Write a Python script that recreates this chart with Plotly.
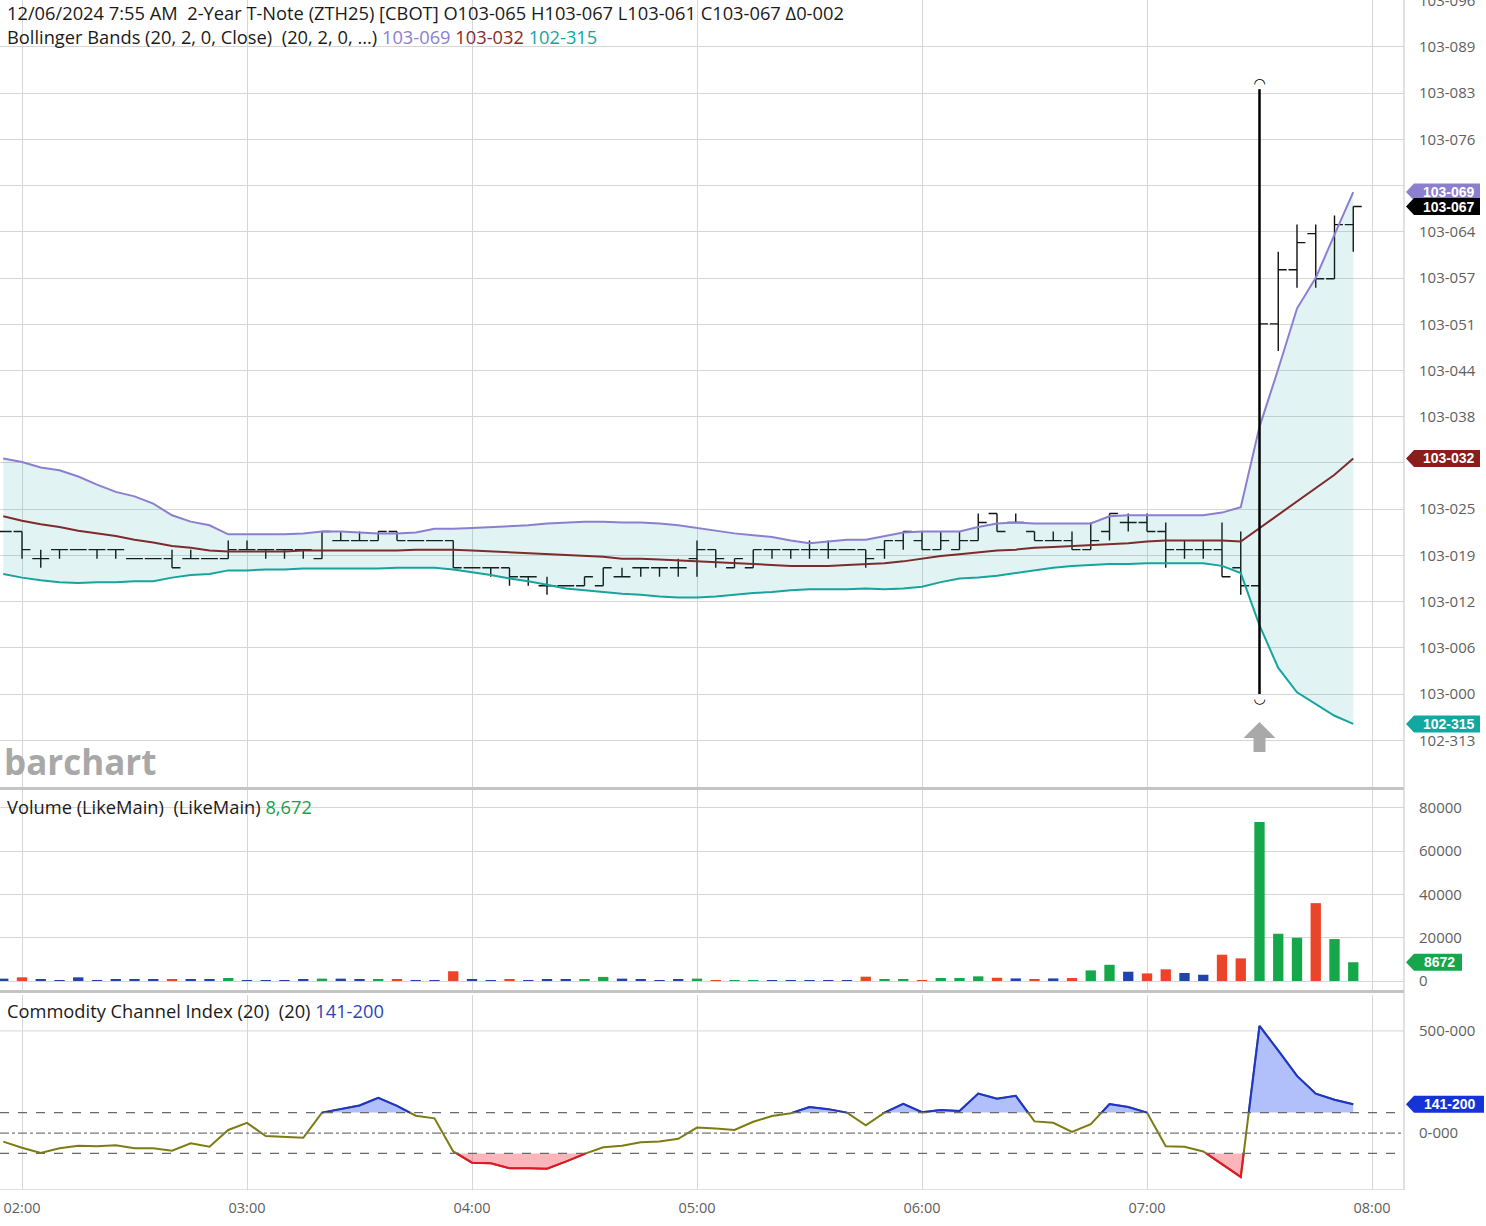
import math
import pandas as pd
import plotly.graph_objects as go

# ---------------- data ----------------
bar_times = pd.date_range("2024-12-06 01:55", "2024-12-06 07:55", freq="5min")

BASE = 103.0
TICK = 1 / 256.0  # one eighth of a 32nd

# OHLC, in 1/256 above 103-000
open_t = [18, 18, 15, 16, 16, 16, 16, 15, 15, 15, 15, 15, 15, 16, 16, 16, 16, 15, 17, 17,
          17, 18, 17, 17, 17, 14, 14, 14, 13, 12, 12, 12, 12, 13, 14, 14, 14, 15, 16, 14,
          14, 16, 16, 16, 16, 16, 16, 16, 17, 17, 16, 16, 17, 20, 19, 18, 17, 17, 16, 18,
          19, 19, 18, 16, 16, 16, 14, 12, 41, 47, 51, 46, 52]
high_t = [18, 18, 16, 16, 16, 16, 16, 15, 15, 16, 16, 15, 17, 17, 16, 16, 16, 18, 18, 18,
          18, 18, 17, 17, 17, 14, 14, 14, 13, 13, 12, 13, 14, 14, 14, 14, 15, 17, 16, 15,
          16, 16, 16, 17, 17, 16, 16, 17, 18, 18, 18, 18, 20, 20, 20, 18, 18, 18, 19, 20,
          20, 20, 19, 17, 17, 19, 18, 67, 49, 52, 52, 53, 54]
low_t = [18, 15, 14, 15, 16, 15, 15, 15, 15, 14, 15, 15, 15, 16, 15, 15, 15, 15, 17, 17,
         17, 17, 17, 17, 14, 14, 13, 12, 12, 11, 12, 12, 12, 13, 13, 13, 13, 13, 14, 14,
         14, 15, 15, 15, 15, 16, 14, 15, 16, 16, 16, 16, 17, 18, 19, 17, 17, 16, 16, 17,
         18, 18, 14, 15, 15, 13, 11, 0, 38, 45, 45, 46, 49]
close_t = [18, 16, 15, 16, 16, 16, 16, 15, 15, 14, 15, 15, 16, 16, 16, 16, 16, 18, 17, 17,
           18, 17, 17, 17, 14, 14, 14, 13, 13, 12, 12, 13, 14, 13, 14, 14, 14, 16, 15, 15,
           16, 16, 16, 16, 16, 16, 15, 17, 18, 16, 17, 17, 19, 18, 19, 17, 17, 16, 17, 20,
           19, 18, 16, 16, 16, 13, 12, 41, 47, 50, 46, 52, 54]

volume = [1100, 1700, 800, 450, 1700, 300, 800, 800, 900, 500, 600, 700, 1400, 450, 350,
          450, 700, 1100, 1100, 700, 600, 500, 200, 450, 4500, 800, 450, 700, 200, 800,
          800, 700, 1900, 1100, 800, 300, 600, 1100, 300, 200, 200, 100, 200, 400, 200,
          100, 2000, 900, 500, 300, 1400, 1400, 2150, 1500, 1200, 770, 1200, 1400, 4900,
          7500, 4300, 3500, 5400, 3700, 2900, 12150, 10460, 73500, 21850, 20000, 36000,
          19400, 8672]

# Bollinger Bands (20, 2), in 1/256 above 103-000
bb_upper_t = [26.1, 25.7, 25.1, 24.8, 24.1, 23.2, 22.4, 21.9, 21.1, 19.8, 19.1, 18.7, 17.7,
              17.7, 17.7, 17.7, 17.8, 18.0, 18.0, 17.9, 17.8, 17.8, 17.9, 18.3, 18.3, 18.4,
              18.5, 18.6, 18.7, 18.9, 19.0, 19.1, 19.1, 19.0, 19.0, 18.9, 18.7, 18.4, 18.1,
              17.8, 17.6, 17.4, 17.0, 16.7, 16.9, 17.1, 17.1, 17.5, 17.9, 18.0, 18.0, 18.0,
              18.5, 18.9, 19.0, 18.9, 18.9, 18.9, 18.9, 19.7, 19.8, 19.8, 19.8, 19.8, 19.8,
              20.1, 20.7, 29.6, 36.0, 42.7, 46.1, 50.9, 55.6]
bb_mid_t = [19.7, 19.2, 18.8, 18.5, 18.1, 17.8, 17.5, 17.1, 16.8, 16.4, 16.2, 15.9, 15.8,
            15.8, 15.8, 15.8, 15.9, 15.9, 15.9, 15.9, 15.9, 15.9, 16.0, 16.0, 16.0, 15.9,
            15.8, 15.7, 15.6, 15.5, 15.4, 15.3, 15.2, 15.0, 15.0, 14.9, 14.8, 14.7, 14.6,
            14.5, 14.4, 14.3, 14.2, 14.2, 14.2, 14.3, 14.4, 14.5, 14.7, 15.0, 15.3, 15.5,
            15.7, 15.9, 16.0, 16.2, 16.3, 16.4, 16.5, 16.6, 16.7, 16.9, 17.0, 17.0, 17.0,
            17.0, 16.9, 18.4, 19.8, 21.3, 22.9, 24.3, 26.1]
bb_lower_t = [13.3, 12.9, 12.6, 12.4, 12.3, 12.4, 12.4, 12.5, 12.5, 12.9, 13.2, 13.3, 13.7,
              13.7, 13.8, 13.8, 13.9, 13.9, 13.9, 13.9, 13.9, 14.0, 14.0, 14.0, 13.8, 13.5,
              13.2, 12.8, 12.5, 12.1, 11.7, 11.5, 11.3, 11.1, 11.0, 10.8, 10.7, 10.7, 10.8,
              11.0, 11.2, 11.3, 11.5, 11.6, 11.6, 11.6, 11.7, 11.6, 11.7, 11.9, 12.4, 12.8,
              12.9, 13.1, 13.4, 13.7, 14.0, 14.2, 14.3, 14.4, 14.4, 14.5, 14.5, 14.5, 14.5,
              14.2, 13.4, 7.6, 2.9, 0.2, -1.1, -2.4, -3.3]

# Commodity Channel Index (20)
cci = [-42, -72, -98, -75, -62, -65, -60, -75, -75, -87, -50, -67, 15, 50, -15, -20, -23,
       100, 117, 135, 172, 133, 85, 72, -90, -145, -148, -172, -172, -175, -140, -102, -70,
       -62, -45, -42, -28, 27, 22, 15, 55, 83, 97, 127, 117, 100, 38, 100, 143, 102, 113,
       108, 193, 168, 182, 57, 50, 5, 43, 142, 127, 100, -65, -67, -90, -153, -215, 525,
       405, 280, 193, 163, 141.2]

# price ticks (labels hidden in the reference by the value tags are left blank)
price_tick_vals = [102.98, 103.00, 103.02, 103.04, 103.06, 103.08, 103.10, 103.12, 103.14,
                   103.16, 103.18, 103.20, 103.22, 103.24, 103.26, 103.28, 103.30]
price_tick_text = ["102-313", "103-000", "103-006", "103-012", "103-019", "103-025",
                   "", "103-038", "103-044", "103-051", "103-057", "103-064",
                   "", "103-076", "103-083", "103-089", "103-096"]
vol_tick_vals = [0, 20000, 40000, 60000, 80000]
vol_tick_text = ["0", "20000", "40000", "60000", "80000"]
cci_tick_vals = [0, 500]
cci_tick_text = ["0-000", "500-000"]

# ---------------- helpers ----------------
def to_price(u):
    return BASE + u * TICK


def fmt32(price):
    whole = math.floor(price + 1e-9)
    frac = (price - whole) * 32
    return f"{whole}-{int(frac * 10 + 1e-6):03d}"


def fmt_cci(v):
    return f"{int(v)}-{int(round((v % 1) * 1000)):03d}"


O = [to_price(v) for v in open_t]
H = [to_price(v) for v in high_t]
L = [to_price(v) for v in low_t]
C = [to_price(v) for v in close_t]
UP = [to_price(v) for v in bb_upper_t]
MID = [to_price(v) for v in bb_mid_t]
LO = [to_price(v) for v in bb_lower_t]

# colours
C_UP = "#8b7fd0"
C_MID = "#7d2b2b"
C_LO = "#17a49e"
C_FILL = "rgba(20,160,160,0.12)"
GRID = "#d6d6d6"
V_GREEN = "#14a84a"
V_RED = "#ec4428"
V_BLUE = "#2144a8"
CCI_OLIVE = "#7c7c12"
CCI_BLUE = "#1c34d0"
CCI_RED = "#e0162c"

# geometry of panels (pixel based)
PLOT_W = 1404.0
PLOT_H = 1190.0
MAIN_RANGE = [102.9598, 103.3003]
VOL_RANGE = [-4160, 88300]
CCI_RANGE = [-279, 676]
dom_main = [1 - 787 / PLOT_H, 1.0]
dom_vol = [1 - 990 / PLOT_H, 1 - 790 / PLOT_H]
dom_cci = [0.0, 1 - 995 / PLOT_H]

main_upp = (MAIN_RANGE[1] - MAIN_RANGE[0]) / 787.0
vol_upp = (VOL_RANGE[1] - VOL_RANGE[0]) / 200.0
cci_upp = (CCI_RANGE[1] - CCI_RANGE[0]) / 195.0
MS_PER_PX = 3600000 / 225.0

x_range = ["2024-12-06 01:54:08", "2024-12-06 08:08:32"]

fig = go.Figure()

# ---------------- main panel ----------------
fig.add_trace(go.Scatter(x=bar_times, y=UP, mode="lines", line=dict(color=C_UP, width=2),
                         xaxis="x", yaxis="y", hoverinfo="skip"))
fig.add_trace(go.Scatter(x=bar_times, y=LO, mode="lines", line=dict(color=C_LO, width=2),
                         fill="tonexty", fillcolor=C_FILL, xaxis="x", yaxis="y",
                         hoverinfo="skip"))
fig.add_trace(go.Scatter(x=bar_times, y=MID, mode="lines", line=dict(color=C_MID, width=2),
                         xaxis="x", yaxis="y", hoverinfo="skip"))
fig.add_trace(go.Ohlc(x=bar_times, open=O, high=H, low=L, close=C,
                      increasing=dict(line=dict(color="#111111", width=1.4)),
                      decreasing=dict(line=dict(color="#111111", width=1.4)),
                      tickwidth=0.45, xaxis="x", yaxis="y", hoverinfo="skip"))

# the large release bar, drawn heavier
big = max(range(len(volume)), key=lambda i: volume[i])
fig.add_trace(go.Scatter(x=[bar_times[big], bar_times[big]], y=[L[big], H[big]],
                         mode="lines", line=dict(color="black", width=2.4),
                         xaxis="x", yaxis="y", hoverinfo="skip"))
fig.add_trace(go.Scatter(x=[bar_times[big], bar_times[big]],
                         y=[H[big] + 5 * main_upp, L[big] - 5 * main_upp],
                         mode="text", text=["◠", "◡"],
                         textposition="middle center",
                         textfont=dict(family="DejaVu Sans", size=14, color="black"),
                         cliponaxis=False, xaxis="x", yaxis="y", hoverinfo="skip"))

# grey event arrow under the release bar
t0 = bar_times[big]
low_big = L[big]
arrow_px = [(0, 28), (16, 44), (6, 44), (6, 58), (-6, 58), (-6, 44), (-16, 44), (0, 28)]
ax_pts = [t0 + pd.Timedelta(milliseconds=dx * MS_PER_PX) for dx, dy in arrow_px]
ay_pts = [low_big - dy * main_upp for dx, dy in arrow_px]
fig.add_trace(go.Scatter(x=ax_pts, y=ay_pts, mode="lines", fill="toself",
                         fillcolor="#a9a9a9", line=dict(color="#a9a9a9", width=0),
                         xaxis="x", yaxis="y", hoverinfo="skip"))

# ---------------- volume panel ----------------
vol_colors = [V_GREEN if c > o else (V_RED if c < o else V_BLUE)
              for o, c in zip(open_t, close_t)]
fig.add_trace(go.Bar(x=bar_times, y=volume, marker=dict(color=vol_colors, line=dict(width=0)),
                     width=0.55 * 300000, xaxis="x2", yaxis="y2", hoverinfo="skip"))

# ---------------- CCI panel ----------------
t_ms = [ts.value / 1e6 for ts in bar_times]


def dense_with_level(vals, level):
    X, Y = [], []
    for i, v in enumerate(vals):
        if i > 0:
            a, b = vals[i - 1], v
            if (a - level) * (b - level) < 0:
                f = (level - a) / (b - a)
                X.append(t_ms[i - 1] + f * (t_ms[i] - t_ms[i - 1]))
                Y.append(level)
        X.append(t_ms[i])
        Y.append(v)
    return pd.to_datetime(X, unit="ms"), Y


fig.add_trace(go.Scatter(x=bar_times, y=cci, mode="lines", line=dict(color=CCI_OLIVE, width=2),
                         xaxis="x3", yaxis="y3", hoverinfo="skip"))

for level, above, lc, fc in [(100, True, CCI_BLUE, "rgba(70,105,245,0.42)"),
                             (-100, False, CCI_RED, "rgba(245,70,85,0.40)")]:
    dx, dy = dense_with_level(cci, level)
    if above:
        clipped = [max(v, level) for v in dy]
        seg = [v if v >= level else None for v in dy]
    else:
        clipped = [min(v, level) for v in dy]
        seg = [v if v <= level else None for v in dy]
    fig.add_trace(go.Scatter(x=dx, y=[level] * len(dx), mode="lines",
                             line=dict(width=0, color=lc), xaxis="x3", yaxis="y3",
                             hoverinfo="skip"))
    fig.add_trace(go.Scatter(x=dx, y=clipped, mode="lines", line=dict(width=0, color=lc),
                             fill="tonexty", fillcolor=fc, xaxis="x3", yaxis="y3",
                             hoverinfo="skip"))
    fig.add_trace(go.Scatter(x=dx, y=seg, mode="lines", line=dict(width=2, color=lc),
                             connectgaps=False, xaxis="x3", yaxis="y3", hoverinfo="skip"))

# ---------------- layout ----------------
xcommon = dict(type="date", showgrid=True, gridcolor=GRID, gridwidth=1,
               dtick=3600000, tick0="2024-12-06 00:00", zeroline=False, automargin=False,
               showline=False, ticks="", rangeslider=dict(visible=False), fixedrange=True)
ycommon = dict(side="right", showgrid=True, gridcolor=GRID, gridwidth=1, zeroline=False,
               showline=False, ticks="", ticklabelstandoff=14, ticklabeloverflow="allow",
               automargin=False,
               tickfont=dict(family="Open Sans", size=15, color="#606060"))

fig.update_layout(
    width=1486, height=1226,
    margin=dict(l=0, r=82, t=0, b=36, autoexpand=False),
    paper_bgcolor="white", plot_bgcolor="white",
    showlegend=False,
    font=dict(family="Open Sans", size=14, color="#222222"),
    xaxis=dict(domain=[0, 1], anchor="y", range=x_range, showticklabels=False, **xcommon),
    xaxis2=dict(domain=[0, 1], anchor="y2", matches="x", showticklabels=False, **xcommon),
    xaxis3=dict(domain=[0, 1], anchor="y3", matches="x", showticklabels=True,
                tickformat="%H:%M", ticklabelstandoff=7,
                tickfont=dict(family="Open Sans", size=14.5, color="#606060"), **xcommon),
    yaxis=dict(domain=dom_main, anchor="x", range=MAIN_RANGE, tickvals=price_tick_vals,
               ticktext=price_tick_text, **ycommon),
    yaxis2=dict(domain=dom_vol, anchor="x2", range=VOL_RANGE, tickvals=vol_tick_vals,
                ticktext=vol_tick_text, **ycommon),
    yaxis3=dict(domain=dom_cci, anchor="x3", range=CCI_RANGE, tickvals=cci_tick_vals,
                ticktext=cci_tick_text, **{**ycommon, "showgrid": False}),
)

shapes = []
# cci reference lines
shapes.append(dict(type="line", xref="paper", yref="y3", x0=0, x1=1, y0=500, y1=500,
                   line=dict(color=GRID, width=1), layer="below"))
for lv in (100, -100):
    shapes.append(dict(type="line", xref="paper", yref="y3", x0=0, x1=1, y0=lv, y1=lv,
                       line=dict(color="#6a6a6a", width=1.3, dash="dash"), layer="above"))
shapes.append(dict(type="line", xref="paper", yref="y3", x0=0, x1=1, y0=0, y1=0,
                   line=dict(color="#777777", width=1.3, dash="dashdot"), layer="above"))
shapes.append(dict(type="line", xref="paper", yref="y3", x0=0, x1=1, y0=CCI_RANGE[0],
                   y1=CCI_RANGE[0], line=dict(color=GRID, width=1.5)))
# panel separators
for ypx in (788.5, 991.5):
    yp = 1 - ypx / PLOT_H
    shapes.append(dict(type="line", xref="paper", yref="paper", x0=0, x1=1, y0=yp, y1=yp,
                       line=dict(color="#c4c4c4", width=3)))
# right axis border
shapes.append(dict(type="line", xref="paper", yref="paper", x0=1, x1=1, y0=0, y1=1,
                   line=dict(color="#cccccc", width=1.2)))

annotations = []


def add_tag(yref, value, text, color, upp, right_px):
    h = 8.5 * upp
    x0 = 1406 / PLOT_W
    x1 = 1414 / PLOT_W
    x2 = right_px / PLOT_W
    shapes.append(dict(type="path", xref="paper", yref=yref,
                       path=(f"M {x0},{value} L {x1},{value + h} L {x2},{value + h} "
                             f"L {x2},{value - h} L {x1},{value - h} Z"),
                       fillcolor=color, line=dict(width=0), layer="above"))
    annotations.append(dict(xref="paper", yref=yref, x=(x1 + x2) / 2 + 1.5 / PLOT_W, y=value,
                            text=f"<b>{text}</b>", showarrow=False, xanchor="center",
                            yanchor="middle",
                            font=dict(family="Liberation Sans", size=14, color="white")))


add_tag("y", UP[-1], fmt32(UP[-1]), C_UP, main_upp, 1480)
add_tag("y", C[-1], fmt32(C[-1]), "#000000", main_upp, 1480)
add_tag("y", MID[-1], fmt32(MID[-1]), "#8b1d1d", main_upp, 1480)
add_tag("y", LO[-1], fmt32(LO[-1]), "#10a8a0", main_upp, 1480)
add_tag("y2", volume[-1], f"{volume[-1]}", "#16a64b", vol_upp, 1462)
add_tag("y3", cci[-1], fmt_cci(cci[-1]), "#1533d6", cci_upp, 1484)


def ypaper(px):
    return 1 - px / PLOT_H


delta = (close_t[-1] - close_t[-2]) * TICK
hdr1 = (f"12/06/2024 7:55 AM\u00a0 2-Year T-Note (ZTH25) [CBOT] O{fmt32(O[-1])} "
        f"H{fmt32(H[-1])} L{fmt32(L[-1])} C{fmt32(C[-1])} Δ{fmt32(delta)}")
hdr2 = (f"Bollinger Bands (20, 2, 0, Close)\u00a0 (20, 2, 0, ...) "
        f"<span style='color:{C_UP}'>{fmt32(UP[-1])}</span> "
        f"<span style='color:#8b2a2a'>{fmt32(MID[-1])}</span> "
        f"<span style='color:{C_LO}'>{fmt32(LO[-1])}</span>")
hdr3 = (f"Volume (LikeMain)\u00a0 (LikeMain) "
        f"<span style='color:#1a9e4a'>{volume[-1]:,}</span>")
hdr4 = (f"Commodity Channel Index (20)\u00a0 (20) "
        f"<span style='color:#2a45b5'>{fmt_cci(cci[-1])}</span>")

for txt, ypx in [(hdr1, 13), (hdr2, 36), (hdr3, 806), (hdr4, 1010)]:
    annotations.append(dict(xref="paper", yref="paper", x=5 / PLOT_W, y=ypaper(ypx),
                            text=txt, showarrow=False, xanchor="left", yanchor="middle",
                            font=dict(family="Open Sans", size=18.3, color="#1a1a1a")))

annotations.append(dict(xref="paper", yref="paper", x=2 / PLOT_W, y=ypaper(762),
                        text="<b>barchart</b>", showarrow=False, xanchor="left",
                        yanchor="middle",
                        font=dict(family="Open Sans", size=35, color="#a8a8a8")))

fig.update_layout(shapes=shapes, annotations=annotations)

fig.write_html("out.html", config={"displayModeBar": False},
               post_script="document.body.style.margin='0px';document.body.style.padding='0px';")
